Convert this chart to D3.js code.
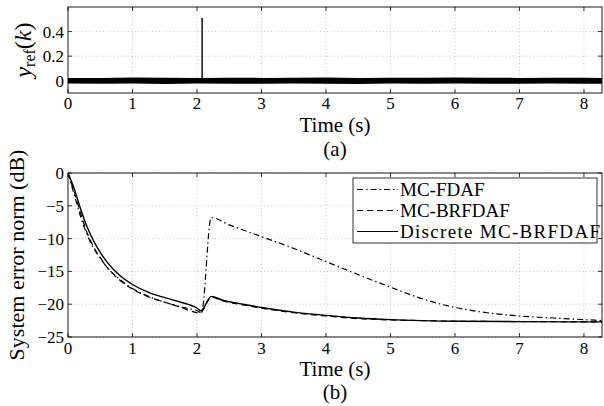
<!DOCTYPE html>
<html>
<head>
<meta charset="utf-8">
<script src="https://cdn.jsdelivr.net/npm/d3@7"></script>
<style>
  body { margin: 0; background: #fff; }
  svg text { font-family: "Liberation Serif", "Times New Roman", serif; fill: #000; }
</style>
</head>
<body>
<div id="chart"></div>
<script>
// values
var xTicks = [0, 1, 2, 3, 4, 5, 6, 7, 8];
var topYTicks = [0, 0.2, 0.4];
var botYTicks = [0, -5, -10, -15, -20, -25];

// (a) reference signal: noise envelope + impulse
var noiseTime = [0, 0.5, 1, 1.5, 2, 2.5, 3, 3.5, 4, 4.5, 5, 5.5, 6, 6.5, 7, 7.5, 8, 8.28];
var noiseHigh = [0.022, 0.023, 0.026, 0.024, 0.023, 0.025, 0.023, 0.024, 0.026, 0.023, 0.025, 0.024, 0.027, 0.024, 0.023, 0.025, 0.024, 0.023];
var noiseLow  = [-0.023, -0.024, -0.022, -0.026, -0.023, -0.024, -0.025, -0.023, -0.024, -0.026, -0.023, -0.024, -0.023, -0.025, -0.024, -0.023, -0.025, -0.024];
var spikeTime = 2.08, spikeValue = 0.51;

// (b) system error norm (dB)
var fdafTime = [0, 0.05, 0.1, 0.2, 0.3, 0.4, 0.5, 0.6, 0.8, 1.0, 1.25, 1.5, 1.75, 2.0, 2.07, 2.22, 2.5, 3.0, 3.5, 4.0, 4.5, 5.0, 5.5, 6.0, 6.5, 7.0, 7.5, 8.0, 8.28];
var fdafVal  = [0, -1.7, -3.4, -6.8, -9.5, -11.5, -13.0, -14.3, -16.2, -17.6, -18.8, -19.7, -20.4, -21.0, -21.3, -6.8, -7.9, -9.7, -11.5, -13.5, -15.5, -17.4, -19.2, -20.5, -21.3, -21.8, -22.1, -22.35, -22.5];

var brTime = [0, 0.05, 0.1, 0.2, 0.3, 0.4, 0.5, 0.6, 0.8, 1.0, 1.25, 1.5, 1.75, 2.0, 2.05, 2.1, 2.22, 2.4, 2.6, 3.0, 3.5, 4.0, 4.5, 5.0, 5.5, 6.0, 7.0, 8.28];
var brVal  = [0, -1.5, -3.0, -6.3, -9.2, -11.3, -12.9, -14.3, -16.3, -17.7, -18.9, -19.7, -20.5, -21.3, -21.4, -20.8, -18.9, -19.5, -19.9, -20.6, -21.3, -21.8, -22.2, -22.4, -22.5, -22.6, -22.65, -22.7];

var discTime = [0, 0.05, 0.1, 0.2, 0.3, 0.4, 0.5, 0.6, 0.8, 1.0, 1.25, 1.5, 1.75, 2.0, 2.06, 2.1, 2.22, 2.4, 2.6, 3.0, 3.5, 4.0, 4.5, 5.0, 5.5, 6.0, 7.0, 8.28];
var discVal  = [0, -1.2, -2.5, -5.6, -8.3, -10.4, -12.1, -13.5, -15.6, -17.0, -18.2, -19.0, -19.7, -20.6, -21.0, -20.6, -18.8, -19.4, -19.8, -20.5, -21.2, -21.7, -22.1, -22.35, -22.5, -22.6, -22.65, -22.7];

var seriesNames = ["MC-FDAF", "MC-BRFDAF", "Discrete MC-BRFDAF"];
var seriesDash = ["6,3,1.5,3", "6,4", null];

var W = 604, H = 406;
var L = 68, R = 602;
var FONT = "Liberation Serif, Times New Roman, serif";

var svg = d3.select("#chart").append("svg")
  .attr("width", W).attr("height", H)
  .attr("font-family", FONT);

var x = d3.scaleLinear().domain([0, 8.28]).range([L, R]);

function grid(g, y, yTicks, top, bottom, clipId) {
  g.append("g").selectAll("line").data(xTicks.filter(d => d > 0))
    .enter().append("line")
    .attr("x1", d => x(d)).attr("x2", d => x(d))
    .attr("y1", top).attr("y2", bottom)
    .attr("stroke", "#b5b5b5").attr("stroke-width", 0.8)
    .attr("stroke-dasharray", "1,2.5");
  g.append("g").selectAll("line").data(yTicks)
    .enter().append("line")
    .attr("x1", L).attr("x2", R)
    .attr("y1", d => y(d)).attr("y2", d => y(d))
    .attr("stroke", "#b5b5b5").attr("stroke-width", 0.8)
    .attr("stroke-dasharray", "1,2.5");

  svg.append("clipPath").attr("id", clipId)
    .append("rect").attr("x", L).attr("y", top)
    .attr("width", R - L).attr("height", bottom - top);
}

function axesOverlay(g, y, yTicks, top, bottom, fmt, labelGap) {
  // inward ticks on all four sides, like matlab
  var tk = 4;
  var ticks = g.append("g").attr("stroke", "#000").attr("stroke-width", 0.8);
  xTicks.forEach(function(d) {
    ticks.append("line").attr("x1", x(d)).attr("x2", x(d)).attr("y1", bottom).attr("y2", bottom - tk);
    ticks.append("line").attr("x1", x(d)).attr("x2", x(d)).attr("y1", top).attr("y2", top + tk);
  });
  yTicks.forEach(function(d) {
    ticks.append("line").attr("x1", L).attr("x2", L + tk).attr("y1", y(d)).attr("y2", y(d));
    ticks.append("line").attr("x1", R).attr("x2", R - tk).attr("y1", y(d)).attr("y2", y(d));
  });
  g.append("rect").attr("x", L).attr("y", top)
    .attr("width", R - L).attr("height", bottom - top)
    .attr("fill", "none").attr("stroke", "#000").attr("stroke-width", 0.9);

  g.append("g").selectAll("text").data(xTicks).enter().append("text")
    .attr("x", d => x(d)).attr("y", bottom + labelGap)
    .attr("text-anchor", "middle").attr("font-size", 17)
    .text(d => d);
  g.append("g").selectAll("text").data(yTicks).enter().append("text")
    .attr("x", L - 4).attr("y", d => y(d) + 6)
    .attr("text-anchor", "end").attr("font-size", 17)
    .text(fmt);
}

// ---------- (a) ----------
var topT = 7, topB = 93;
var yA = d3.scaleLinear().domain([-0.1, 0.6]).range([topB, topT]);
var gA = svg.append("g");
grid(gA, yA, topYTicks, topT, topB, "clipA");

var noise = noiseTime.map((t, i) => ({t: t, hi: noiseHigh[i], lo: noiseLow[i]}));
gA.append("path").datum(noise)
  .attr("clip-path", "url(#clipA)")
  .attr("fill", "#000")
  .attr("d", d3.area().x(d => x(d.t)).y0(d => yA(d.lo)).y1(d => yA(d.hi)));
gA.append("line")
  .attr("x1", x(spikeTime)).attr("x2", x(spikeTime))
  .attr("y1", yA(0)).attr("y2", yA(spikeValue))
  .attr("stroke", "#000").attr("stroke-width", 1.4);

axesOverlay(gA, yA, topYTicks, topT, topB, d => d === 0 ? "0" : d3.format(".1f")(d), 16);

gA.append("text").attr("x", x(4.14)).attr("y", 132)
  .attr("text-anchor", "middle").attr("font-size", 21).text("Time (s)");
gA.append("text").attr("x", x(4.14)).attr("y", 156)
  .attr("text-anchor", "middle").attr("font-size", 21).text("(a)");

var yl = gA.append("text")
  .attr("transform", "translate(31,50) rotate(-90)")
  .attr("text-anchor", "middle").attr("font-size", 24);
yl.append("tspan").attr("font-style", "italic").text("y");
yl.append("tspan").attr("font-size", 16).attr("dy", 4).text("ref");
yl.append("tspan").attr("dy", -4).text("(");
yl.append("tspan").attr("font-style", "italic").text("k");
yl.append("tspan").text(")");

// ---------- (b) ----------
var botT = 173, botB = 337;
var yB = d3.scaleLinear().domain([-25, 0]).range([botB, botT]);
var gB = svg.append("g");
grid(gB, yB, botYTicks, botT, botB, "clipB");

var series = [
  fdafTime.map((t, i) => [t, fdafVal[i]]),
  brTime.map((t, i) => [t, brVal[i]]),
  discTime.map((t, i) => [t, discVal[i]])
];
var line = d3.line().x(d => x(d[0])).y(d => yB(d[1])).curve(d3.curveMonotoneX);

gB.append("g").attr("clip-path", "url(#clipB)")
  .selectAll("path").data(series).enter().append("path")
  .attr("d", line)
  .attr("fill", "none").attr("stroke", "#000")
  .attr("stroke-width", (d, i) => i === 2 ? 1.4 : 1.2)
  .attr("stroke-dasharray", (d, i) => seriesDash[i]);

// legend
var lg = gB.append("g").attr("clip-path", "url(#clipB)");
lg.append("rect").attr("x", 353).attr("y", 178)
  .attr("width", 244).attr("height", 65)
  .attr("fill", "#fff").attr("stroke", "#000").attr("stroke-width", 0.8);
seriesNames.forEach(function(name, i) {
  var cy = 189.5 + i * 21;
  lg.append("line").attr("x1", 357).attr("x2", 398)
    .attr("y1", cy).attr("y2", cy)
    .attr("stroke", "#000").attr("stroke-width", 1.2)
    .attr("stroke-dasharray", seriesDash[i]);
  lg.append("text").attr("x", 400).attr("y", cy + 6.5)
    .attr("font-size", 19).attr("textLength", i === 2 ? 200 : null)
    .text(name);
});

axesOverlay(gB, yB, botYTicks, botT, botB, d => d === 0 ? "0" : "\u2212" + Math.abs(d), 17);

gB.append("text").attr("x", x(4.14)).attr("y", 376)
  .attr("text-anchor", "middle").attr("font-size", 21).text("Time (s)");
gB.append("text").attr("x", x(4.14)).attr("y", 399)
  .attr("text-anchor", "middle").attr("font-size", 21).text("(b)");
gB.append("text")
  .attr("transform", "translate(24,255) rotate(-90)")
  .attr("text-anchor", "middle").attr("font-size", 22)
  .text("System error norm (dB)");
</script>
</body>
</html>
